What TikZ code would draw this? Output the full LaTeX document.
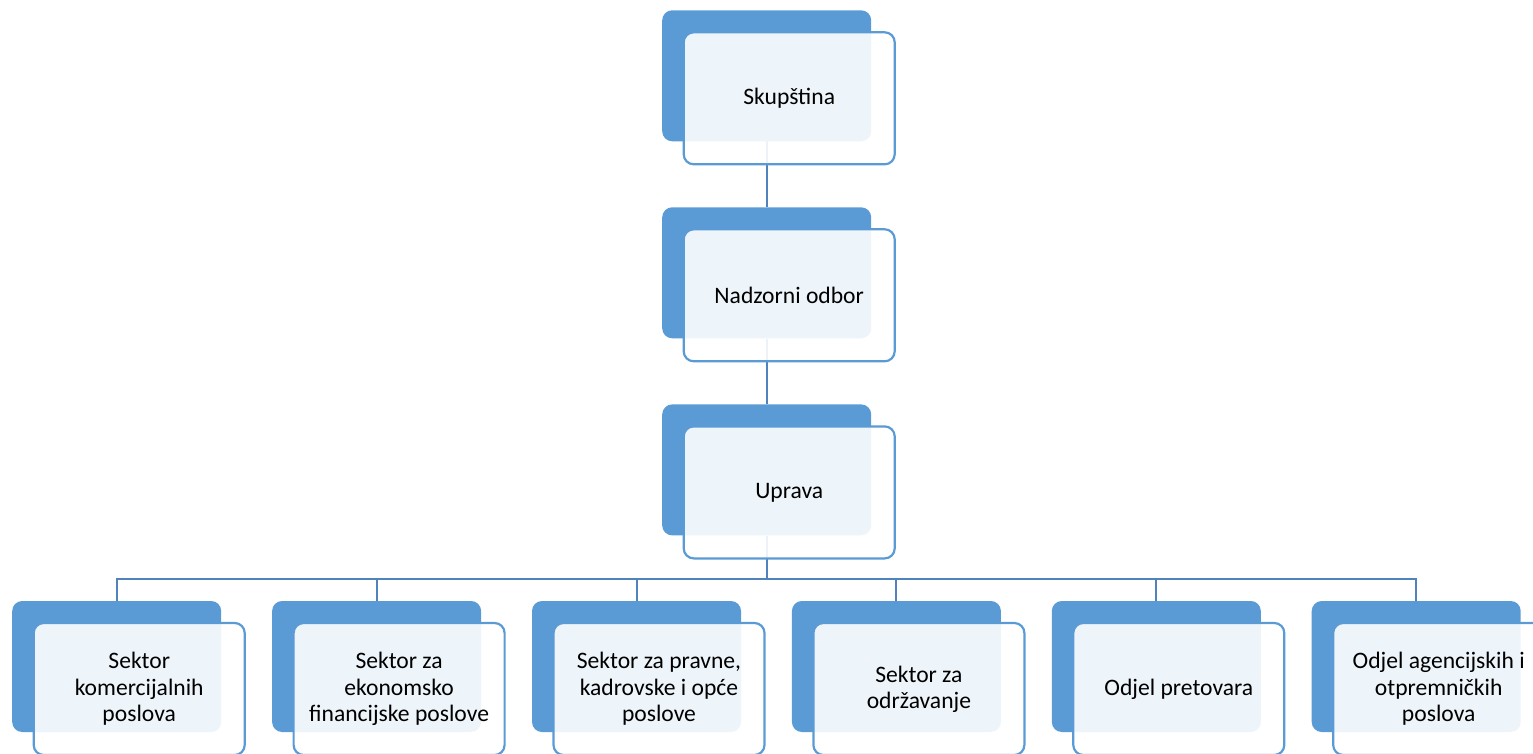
\documentclass[tikz,border=0pt]{standalone}
\usepackage{fontspec}
\setmainfont{Carlito}
\definecolor{boxblue}{RGB}{91,155,213}
\definecolor{lineblue}{RGB}{80,130,190}
\begin{document}
\begin{tikzpicture}[x=1pt,y=-1pt,
  back/.style={fill=boxblue,rounded corners=10pt,minimum width=209pt,minimum height=131pt,inner sep=0pt},
  front/.style={draw=boxblue,line width=2.2pt,fill=white,fill opacity=.9,text opacity=1,rounded corners=10pt,
    minimum width=211pt,minimum height=132pt,inner sep=0pt,align=center,xshift=22.5pt,yshift=-22.5pt,
    font=\fontsize{23.6}{26.3}\selectfont},
  conn/.style={draw=lineblue,line width=2pt}]
\useasboundingbox (0,0) rectangle (1533,754);
% back boxes
\node[back] (skup) at (766.7,75.8) {};
\node[back] (nadz) at (766.7,272.8) {};
\node[back] (upr) at (766.7,469.9) {};
\foreach \i in {1,...,6}
  \node[back] (b\i) at ({116.7+259.9*(\i-1)},666.5) {};
% connectors
\draw[conn] (skup) -- (nadz);
\draw[conn] (nadz) -- (upr);
\foreach \i in {1,...,6}
  \draw[conn] (upr.south) -- ++(0,43.6) -| (b\i.north);
% front boxes
\node[front] (skupF) at (skup) {Skupština};
\node[front] (nadzF) at (nadz) {Nadzorni odbor};
\node[front] (uprF) at (upr) {Uprava};
\foreach \i/\txt in {1/{Sektor\\komercijalnih\\poslova},
    2/{Sektor za\\ekonomsko\\financijske poslove},
    3/{Sektor za pravne,\\kadrovske i opće\\poslove},
    4/{Sektor za\\održavanje},
    5/{Odjel pretovara},
    6/{Odjel agencijskih i\\otpremničkih\\poslova}}
  \node[front] (b\i F) at (b\i) {\txt};
\end{tikzpicture}
\end{document}
